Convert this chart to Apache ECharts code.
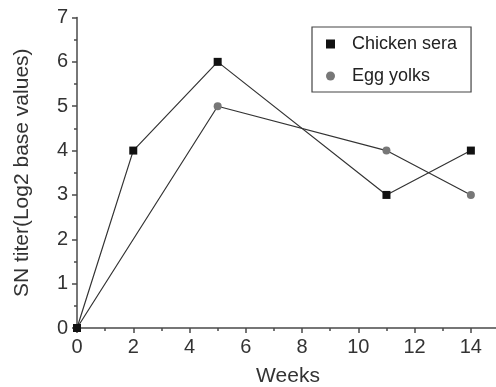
<!DOCTYPE html>
<html>
<head>
<meta charset="utf-8">
<script src="https://cdn.jsdelivr.net/npm/echarts@6/dist/echarts.min.js"></script>
<style>
  html, body { margin: 0; padding: 0; background: #fff; }
  #chart { width: 496px; height: 387px; }
</style>
</head>
<body>
<div id="chart"></div>
<script>
// SN titer over time for two sample types
const chickenWeeks = [0, 2, 5, 11, 14];
const chickenTiter = [0, 4, 6, 3, 4];
const yolkWeeks = [0, 5, 11, 14];
const yolkTiter = [0, 5, 4, 3];
const xTicks = [0, 2, 4, 6, 8, 10, 12, 14];
const yTicks = [0, 1, 2, 3, 4, 5, 6, 7];

const font = '"Liberation Sans", Arial, sans-serif';
const axisColor = '#4a4a4a';

const pair = (xs, ys) => xs.map((x, i) => [x, ys[i]]);

const chart = echarts.init(document.getElementById('chart'));
chart.setOption({
  animation: false,
  backgroundColor: '#fff',
  grid: { left: 77, right: -3, top: 17.5, bottom: 59, outerBoundsMode: 'none' },
  xAxis: {
    type: 'value', min: 0, max: 15, interval: 2,
    name: 'Weeks', nameLocation: 'middle', nameGap: 38,
    nameTextStyle: { fontFamily: font, fontSize: 21, color: '#333' },
    axisLine: { lineStyle: { color: axisColor, width: 1.5 } },
    axisTick: { show: true, inside: false, length: 5, lineStyle: { color: axisColor, width: 1.5 } },
    minorTick: { show: true, splitNumber: 2, length: 3, lineStyle: { color: axisColor, width: 1.5 } },
    axisLabel: {
      fontFamily: font, fontSize: 20, color: '#333', margin: 9,
      formatter: v => (xTicks.includes(v) ? String(v) : '')
    },
    splitLine: { show: false }
  },
  yAxis: {
    type: 'value', min: 0, max: 7, interval: 1,
    name: 'SN titer(Log2 base values)', nameLocation: 'middle', nameGap: 44,
    nameTextStyle: { fontFamily: font, fontSize: 21, color: '#333' },
    axisLine: { show: true, lineStyle: { color: axisColor, width: 1.5 } },
    axisTick: { show: true, inside: false, length: 5, lineStyle: { color: axisColor, width: 1.5 } },
    minorTick: { show: true, splitNumber: 2, length: 3, lineStyle: { color: axisColor, width: 1.5 } },
    axisLabel: {
      fontFamily: font, fontSize: 20, color: '#333', margin: 9,
      formatter: v => (yTicks.includes(v) ? String(v) : '')
    },
    splitLine: { show: false }
  },
  legend: {
    orient: 'vertical',
    left: 312, top: 27,
    width: 158,
    padding: [8, 14, 7, 14],
    itemGap: 14,
    itemWidth: 9, itemHeight: 9,
    borderColor: '#444', borderWidth: 1.2,
    backgroundColor: '#fff',
    textStyle: { fontFamily: font, fontSize: 18, color: '#222', padding: [0, 0, 0, 12] },
    data: [
      { name: 'Chicken sera', icon: 'rect', itemStyle: { color: '#111' } },
      { name: 'Egg yolks', icon: 'circle', itemStyle: { color: '#777' } }
    ]
  },
  series: [
    {
      name: 'Chicken sera', type: 'line',
      data: pair(chickenWeeks, chickenTiter),
      symbol: 'rect', symbolSize: 8,
      itemStyle: { color: '#111' },
      lineStyle: { color: '#333', width: 1.2 },
      z: 3
    },
    {
      name: 'Egg yolks', type: 'line',
      data: pair(yolkWeeks, yolkTiter),
      symbol: 'circle', symbolSize: 8,
      itemStyle: { color: '#777' },
      lineStyle: { color: '#333', width: 1.2 },
      z: 2
    }
  ]
});
</script>
</body>
</html>
